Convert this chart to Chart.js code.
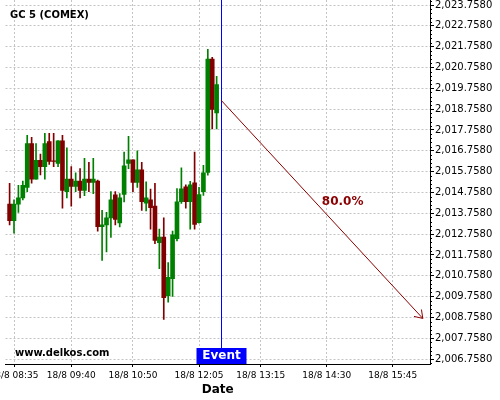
<!DOCTYPE html>
<html>
<head>
<meta charset="utf-8">
<script src="https://cdn.jsdelivr.net/npm/chart.js@4.4.0/dist/chart.umd.min.js"></script>
<style>
  html, body { margin: 0; padding: 0; background: #fff; }
</style>
</head>
<body>
<canvas id="chart" width="500" height="400"></canvas>
<script>
// 5 minute candles, 18/8
const candleTimes = ['08:30', '08:35', '08:40', '08:45', '08:50', '08:55', '09:00', '09:05', '09:10', '09:15',
  '09:20', '09:25', '09:30', '09:35', '09:40', '09:45', '09:50', '09:55', '10:00', '10:05',
  '10:10', '10:15', '10:20', '10:25', '10:30', '10:35', '10:40', '10:45', '10:50', '10:55',
  '11:00', '11:05', '11:10', '11:15', '11:20', '11:25', '11:30', '11:35', '11:40', '11:45',
  '11:50', '11:55', '12:00', '12:05', '12:10', '12:15', '12:20', '12:25'];
const opens = [2014.2, 2013.4, 2014.2, 2014.5, 2015.0, 2017.1, 2015.4, 2016.3, 2016.0, 2017.2,
  2016.28, 2016.15, 2017.24, 2014.8, 2015.4, 2015.05, 2015.3, 2014.85, 2015.4, 2015.24,
  2015.3, 2013.12, 2013.2, 2013.54, 2014.64, 2013.3, 2014.66, 2016.15, 2016.33, 2015.24,
  2015.85, 2014.24, 2014.4, 2014.1, 2012.35, 2012.62, 2009.8, 2010.62, 2012.54, 2014.31,
  2015.03, 2014.31, 2015.22, 2013.31, 2014.8, 2015.72, 2021.16, 2018.58];
const highs = [2015.2, 2014.4, 2015.1, 2015.3, 2017.5, 2017.4, 2017.1, 2016.6, 2017.6, 2017.6,
  2017.6, 2017.25, 2017.5, 2016.9, 2016.0, 2015.7, 2015.9, 2016.4, 2016.2, 2016.4,
  2015.35, 2013.9, 2013.8, 2014.8, 2014.8, 2014.7, 2016.7, 2017.45, 2016.33, 2016.76,
  2016.2, 2015.27, 2014.92, 2015.2, 2013.0, 2013.54, 2011.39, 2012.9, 2014.95, 2015.94,
  2015.13, 2015.29, 2016.7, 2015.0, 2016.06, 2021.63, 2021.25, 2020.33];
const lows = [2013.2, 2012.8, 2013.8, 2014.4, 2014.8, 2015.2, 2015.4, 2015.6, 2015.4, 2016.1,
  2016.0, 2016.0, 2014.0, 2014.5, 2014.1, 2014.8, 2014.5, 2014.6, 2014.8, 2014.7,
  2012.9, 2011.5, 2011.9, 2012.6, 2013.2, 2013.1, 2014.3, 2015.9, 2014.8, 2015.0,
  2013.9, 2013.87, 2012.99, 2012.3, 2011.1, 2008.66, 2009.49, 2009.76, 2012.43, 2014.23,
  2014.0, 2012.99, 2012.99, 2013.28, 2014.61, 2015.59, 2017.81, 2017.81];
const closes = [2013.4, 2014.2, 2014.5, 2015.1, 2017.1, 2015.4, 2016.3, 2016.0, 2017.1, 2016.25,
  2016.25, 2017.24, 2014.85, 2015.4, 2015.05, 2015.3, 2014.85, 2015.4, 2015.24, 2015.4,
  2013.12, 2013.2, 2013.54, 2014.4, 2013.46, 2014.5, 2016.04, 2016.33, 2015.24, 2015.85,
  2014.32, 2014.5, 2014.03, 2012.45, 2012.62, 2009.7, 2010.68, 2012.72, 2014.31, 2014.93,
  2014.32, 2015.13, 2013.22, 2014.66, 2015.7, 2021.16, 2018.74, 2019.94];

const xTickTimes = ['08:35', '09:40', '10:50', '12:05', '13:15', '14:30', '15:45'];
const xTickDay = '18/8';
const yTickValues = [2006.758, 2007.758, 2008.758, 2009.758, 2010.758, 2011.758, 2012.758, 2013.758, 2014.758,
  2015.758, 2016.758, 2017.758, 2018.758, 2019.758, 2020.758, 2021.758, 2022.758, 2023.758];

const eventTime = '12:30';
const arrowFrom = ['12:30', 2019.19];
const arrowTo = ['16:19', 2008.71];
const arrowLabel = ['14:48', 2014.32, '80.0%'];

const GREEN = '#008000';
const RED = '#800000';

function toMin(t) {
  const [h, m] = t.split(':').map(Number);
  return h * 60 + m;
}

const candleColors = opens.map((o, i) => (closes[i] >= o ? GREEN : RED));

const bodies = candleTimes.map((t, i) => ({ x: toMin(t), y: [opens[i], closes[i]] }));
const wicks = candleTimes.map((t, i) => ({ x: toMin(t), y: [lows[i], highs[i]] }));

const overlay = {
  id: 'overlay',
  afterDraw(chart) {
    const { ctx, chartArea: a, scales: { x, y } } = chart;
    ctx.save();

    // minor ticks on the price axis
    ctx.strokeStyle = '#000';
    ctx.lineWidth = 1;
    ctx.beginPath();
    for (let k = -1; k <= 86; k++) {
      if (k % 5 === 0) continue;
      const v = yTickValues[0] + k * 0.2;
      if (v < y.min || v > y.max) continue;
      const py = Math.round(y.getPixelForValue(v)) + 0.5;
      ctx.moveTo(a.right, py);
      ctx.lineTo(a.right + 2, py);
    }
    ctx.stroke();

    // event marker
    const ex = Math.round(x.getPixelForValue(toMin(eventTime)));
    const boxH = 16, boxW = 50;
    ctx.strokeStyle = '#0000ff';
    ctx.beginPath();
    ctx.moveTo(ex + 0.5, a.top);
    ctx.lineTo(ex + 0.5, a.bottom - boxH);
    ctx.stroke();
    ctx.fillStyle = '#0000ff';
    ctx.fillRect(ex - boxW / 2 + 0.5, a.bottom - boxH, boxW, boxH);
    ctx.fillStyle = '#fff';
    ctx.font = 'bold 12px "DejaVu Sans"';
    ctx.textAlign = 'center';
    ctx.textBaseline = 'middle';
    ctx.fillText('Event', ex + 0.5, a.bottom - boxH / 2);

    // forecast arrow
    const x0 = x.getPixelForValue(toMin(arrowFrom[0])), y0 = y.getPixelForValue(arrowFrom[1]);
    const x1 = x.getPixelForValue(toMin(arrowTo[0])), y1 = y.getPixelForValue(arrowTo[1]);
    const ang = Math.atan2(y1 - y0, x1 - x0);
    ctx.strokeStyle = '#8b0000';
    ctx.lineWidth = 1;
    ctx.beginPath();
    ctx.moveTo(x0, y0);
    ctx.lineTo(x1, y1);
    ctx.moveTo(x1 - 9 * Math.cos(ang - 0.6), y1 - 9 * Math.sin(ang - 0.6));
    ctx.lineTo(x1, y1);
    ctx.lineTo(x1 - 9 * Math.cos(ang + 0.6), y1 - 9 * Math.sin(ang + 0.6));
    ctx.stroke();

    ctx.fillStyle = '#8b0000';
    ctx.font = 'bold 12px "DejaVu Sans"';
    ctx.fillText(arrowLabel[2], x.getPixelForValue(toMin(arrowLabel[0])), y.getPixelForValue(arrowLabel[1]));

    // title and watermark
    ctx.fillStyle = '#000';
    ctx.font = 'bold 10px "DejaVu Sans"';
    ctx.textAlign = 'left';
    ctx.fillText('GC 5 (COMEX)', 10, 15.5);
    ctx.fillText('www.delkos.com', 15, 353.5);

    ctx.restore();
  }
};

Chart.defaults.font.family = '"DejaVu Sans"';
Chart.defaults.color = '#000';

new Chart(document.getElementById('chart'), {
  type: 'bar',
  data: {
    datasets: [
      {
        label: 'wick',
        data: wicks,
        backgroundColor: candleColors,
        barThickness: 1,
        grouped: false,
        order: 2
      },
      {
        label: 'body',
        data: bodies,
        backgroundColor: candleColors,
        barThickness: 4,
        grouped: false,
        order: 1
      }
    ]
  },
  options: {
    responsive: false,
    animation: false,
    layout: { padding: { left: 5.5, right: 0, top: 0, bottom: 0 } },
    plugins: {
      legend: { display: false },
      tooltip: { enabled: false }
    },
    scales: {
      x: {
        type: 'linear',
        min: 505.35,
        max: 987.2,
        offset: false,
        afterBuildTicks: s => { s.ticks = xTickTimes.map(t => ({ value: toMin(t) })); },
        afterFit: s => { s.height = 36; s.paddingLeft = 0; s.paddingRight = 0; },
        grid: { offset: false, color: '#c4c4c4', tickColor: '#000', tickLength: 3 },
        border: { display: true, color: '#000', width: 1, dash: [2, 2] },
        ticks: {
          color: '#000',
          font: { size: 9 },
          padding: 3,
          maxRotation: 0,
          autoSkip: false,
          callback: (v, i) => xTickDay + ' ' + xTickTimes[i]
        },
        title: {
          display: true,
          text: 'Date',
          color: '#000',
          font: { size: 12, weight: 'bold' },
          padding: { top: 3, bottom: 3 }
        }
      },
      y: {
        type: 'linear',
        position: 'right',
        min: 2006.52,
        max: 2024.0,
        afterBuildTicks: s => { s.ticks = yTickValues.map(v => ({ value: v })); },
        afterFit: s => { s.width = 70; s.paddingTop = 0; s.paddingBottom = 0; },
        grid: { color: '#c4c4c4', tickColor: '#000', tickLength: 4 },
        border: { display: true, color: '#000', width: 1, dash: [2, 2] },
        ticks: {
          color: '#000',
          font: { size: 10 },
          padding: 1,
          callback: v => v.toLocaleString('en-US', { minimumFractionDigits: 4, maximumFractionDigits: 4 })
        }
      }
    }
  },
  plugins: [overlay]
});
</script>
</body>
</html>
